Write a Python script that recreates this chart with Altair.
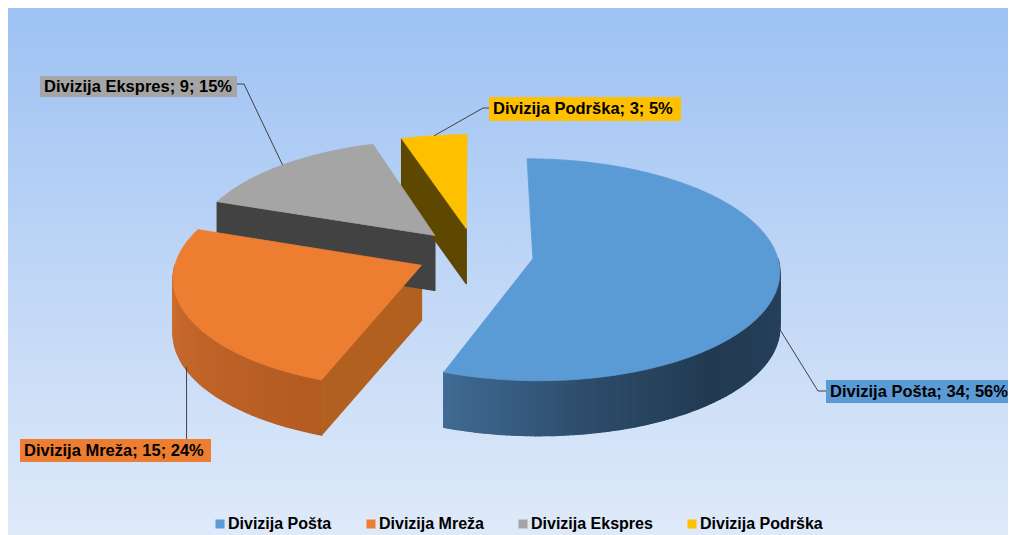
import math
import numpy as np
import pandas as pd
import altair as alt

# ---------------- data ----------------
names = ["Divizija Pošta", "Divizija Mreža", "Divizija Ekspres", "Divizija Podrška"]
values = [34, 15, 9, 3]
percents = [56, 24, 15, 5]

# ---------------- styles ----------------
top_colors = ["#5B9BD5", "#ED7D31", "#A5A5A5", "#FFC000"]
cut_colors = ["#2F5275", "#B1601F", "#424242", "#5E4800"]
wall_stops = [
    [(90, "#28435C"), (106, "#26405A"), (140, "#223B52"), (167, "#2C4A68"), (202, "#416C95")],
    [(200, "#B35B21"), (235, "#BF6329"), (270, "#CD6D2D")],
    [(0, "#444444"), (360, "#444444")],
    [(0, "#5E4800"), (360, "#5E4800")],
]

# ---------------- layout (page pixel coordinates) ----------------
W, H = 1000, 527
X0, Y0 = 8, 8
CX, CY, RX, RY, PERSP, EXPLODE, DEPTH = 475, 254, 244, 110, 0.1, 0.24, 55
anchor_drop = [0.9, 0.95, 0.0, 0.0]
label_box = [(826, 380, 1008, 403), (20, 439, 211, 462), (40, 76, 237, 97), (489, 97, 681, 121)]
leader_elbows = [[(826, 391), (818, 391)], None, [(237, 84), (244, 84)], [(489, 108), (483, 108)]]


def hex2rgb(h):
    h = h.lstrip("#")
    return [int(h[i:i + 2], 16) for i in (0, 2, 4)]


def interp_color(stops, t):
    if t <= stops[0][0]:
        return stops[0][1]
    for (a, ca), (b, cb) in zip(stops[:-1], stops[1:]):
        if a <= t <= b:
            f = (t - a) / (b - a) if b > a else 0
            ra, rb = hex2rgb(ca), hex2rgb(cb)
            r = [round(ra[k] + (rb[k] - ra[k]) * f) for k in range(3)]
            return "#%02X%02X%02X" % tuple(r)
    return stops[-1][1]


def proj(u, w):
    return CX + RX * u * (1 + PERSP * w), CY + RY * (w + PERSP * w * w)


total = sum(values)
bounds = np.concatenate([[0.0], np.cumsum(values)]) / total * 360.0

top_rows, side_rows, lead_rows = [], [], []
anchors = []
for i, name in enumerate(names):
    ts, te = bounds[i], bounds[i + 1]
    m = math.radians((ts + te) / 2)
    au, aw = EXPLODE * math.sin(m), -EXPLODE * math.cos(m)
    n = max(2, int(math.ceil(te - ts)))
    th = np.radians(np.linspace(ts, te, n + 1))
    us = au + np.sin(th)
    ws = aw - np.cos(th)
    apex = proj(au, aw)
    arc = [proj(u, w) for u, w in zip(us, ws)]

    # top face polygon
    poly = [apex] + arc + [apex]
    for k, (x, y) in enumerate(poly):
        top_rows.append(dict(pid=f"t{i}", k=k, x=x, y=y, name=name))

    def quad(pid, p1, p2, col):
        pts = [p1, p2, (p2[0], p2[1] + DEPTH), (p1[0], p1[1] + DEPTH), p1]
        for k, (x, y) in enumerate(pts):
            side_rows.append(dict(pid=pid, k=k, x=x, y=y, col=col))

    # curved outer wall (front facing parts only)
    for j in range(n):
        tm = (th[j] + th[j + 1]) / 2
        if -math.cos(tm) > 0:
            col = interp_color(wall_stops[i], math.degrees(tm))
            quad(f"w{i}_{j}", arc[j], arc[j + 1], col)
    # radial cut faces
    if math.sin(th[0]) < -1e-6:
        quad(f"cs{i}", arc[0], apex, cut_colors[i])
    if math.sin(th[-1]) > 1e-6:
        quad(f"ce{i}", apex, arc[-1], cut_colors[i])

    ax, ay = proj(au + math.sin(m), aw - math.cos(m))
    ay += DEPTH * anchor_drop[i]
    anchors.append((ax, ay))

for i, name in enumerate(names):
    ax, ay = anchors[i]
    if leader_elbows[i] is None:
        pts = [(ax, label_box[i][1]), (ax, ay)]
    else:
        pts = leader_elbows[i] + [(ax, ay)]
    for k, (x, y) in enumerate(pts):
        lead_rows.append(dict(pid=name, k=k, x=x, y=y))

tops = pd.DataFrame(top_rows)
sides = pd.DataFrame(side_rows)
leads = pd.DataFrame(lead_rows)
labels = pd.DataFrame({
    "name": names,
    "text": [f"{n}; {v}; {p}%" for n, v, p in zip(names, values, percents)],
    "x1": [b[0] for b in label_box],
    "x2": [b[2] for b in label_box],
    "y1": [b[1] for b in label_box],
    "y2": [b[3] for b in label_box],
})
labels["tx"] = labels["x1"] + 4
labels["ty"] = (labels["y1"] + labels["y2"]) / 2

xs = alt.Scale(domain=[X0, X0 + W], nice=False, zero=False)
ys = alt.Scale(domain=[Y0, Y0 + H], nice=False, zero=False, reverse=True)
X = lambda f: alt.X(f, type="quantitative", scale=xs, axis=None)
Y = lambda f: alt.Y(f, type="quantitative", scale=ys, axis=None)

bg = alt.Chart(pd.DataFrame({"a": [0]})).mark_rect(
    fill=alt.Gradient(
        gradient="linear", x1=0, x2=0, y1=0, y2=1,
        stops=[alt.GradientStop(color="#9DC2F3", offset=0),
               alt.GradientStop(color="#BFD6F6", offset=0.5),
               alt.GradientStop(color="#DFEAF9", offset=1)],
    )
).encode(x=alt.value(0), x2=alt.value(W), y=alt.value(0), y2=alt.value(H))

side_layer = alt.Chart(sides).mark_line(strokeWidth=1.4, strokeJoin="round").encode(
    x=X("x"), y=Y("y"), detail="pid:N", order="k:Q",
    fill=alt.Fill("col:N", scale=None), stroke=alt.Stroke("col:N", scale=None),
)

top_layer = alt.Chart(tops).mark_line(strokeWidth=0.8, strokeJoin="round").encode(
    x=X("x"), y=Y("y"), detail="pid:N", order="k:Q",
    fill=alt.Fill("name:N", scale=alt.Scale(domain=names, range=top_colors), legend=None),
    color=alt.Color(
        "name:N", scale=alt.Scale(domain=names, range=top_colors),
        legend=alt.Legend(
            title=None, orient="none", direction="horizontal", legendX=204, legendY=508,
            symbolType="square", symbolSize=81, symbolStrokeWidth=0, symbolOpacity=1,
            labelFont="Liberation Sans", labelFontWeight="bold", labelFontSize=16,
            labelColor="#000000", labelOffset=0, columnPadding=31, padding=0,
        ),
    ),
)

lead_layer = alt.Chart(leads).mark_line(color="#404040", strokeWidth=1).encode(
    x=X("x"), y=Y("y"), detail="pid:N", order="k:Q",
)

box_layer = alt.Chart(labels).mark_rect().encode(
    x=X("x1"), x2="x2", y=Y("y1"), y2="y2",
    fill=alt.Fill("name:N", scale=alt.Scale(domain=names, range=top_colors), legend=None),
)

text_layer = alt.Chart(labels).mark_text(
    align="left", baseline="middle", font="Liberation Sans", fontWeight="bold",
    fontSize=16.5, color="#000000",
).encode(x=X("tx"), y=Y("ty"), text="text:N")

chart = alt.layer(bg, side_layer, top_layer, lead_layer, box_layer, text_layer).resolve_scale(
    fill="independent", color="independent", stroke="independent"
).properties(
    width=W, height=H, padding=0,
    autosize=alt.AutoSizeParams(type="fit", contains="padding"),
).configure_view(stroke=None).configure(background="#FFF8E8")

chart.save("out.html", embed_options={"renderer": "svg", "actions": False})
